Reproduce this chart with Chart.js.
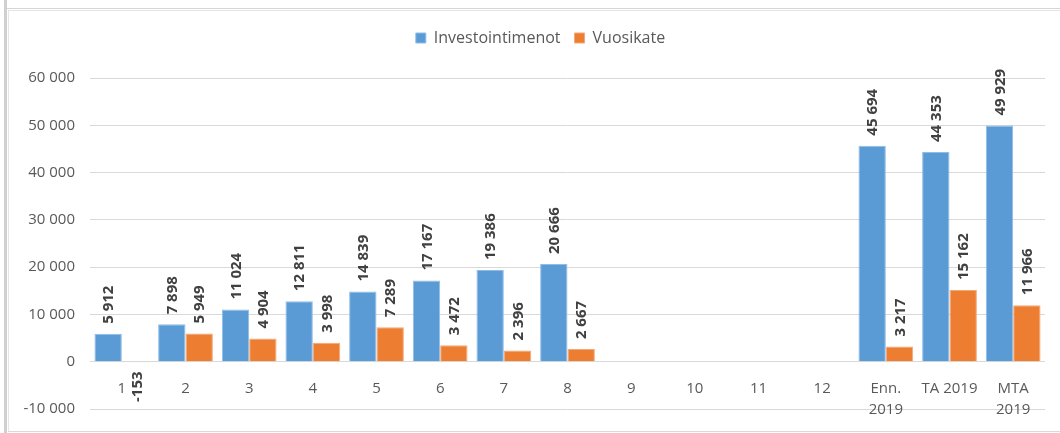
<!DOCTYPE html>
<html>
<head>
<meta charset="utf-8">
<style>
  html, body { margin: 0; padding: 0; background: #fff; }
  #wrap { position: absolute; left: 0; top: 0; width: 1060px; height: 433px; }
</style>
<script src="https://cdn.jsdelivr.net/npm/chart.js@4/dist/chart.umd.min.js"></script>
</head>
<body>
<div id="wrap"><canvas id="c" width="1060" height="433"></canvas></div>
<script>
const categories = ['1', '2', '3', '4', '5', '6', '7', '8', '9', '10', '11', '12', ['Enn.', '2019'], 'TA 2019', ['MTA', '2019']];
const investointimenot = [5912, 7898, 11024, 12811, 14839, 17167, 19386, 20666, null, null, null, null, 45694, 44353, 49929];
const vuosikate = [-153, 5949, 4904, 3998, 7289, 3472, 2396, 2667, null, null, null, null, 3217, 15162, 11966];
const seriesNames = ['Investointimenot', 'Vuosikate'];
const yMin = -10000, yMax = 60000, yStep = 10000;

const FONT = "'Open Sans', 'Liberation Sans', sans-serif";
function fmt(v) {
  const s = Math.abs(v).toString().replace(/\B(?=(\d{3})+(?!\d))/g, ' ');
  return (v < 0 ? '-' : '') + s;
}

const framePlugin = {
  id: 'frame',
  beforeInit(chart) {
    const lg = chart.legend;
    if (lg) {
      const origFit = lg.fit;
      lg.fit = function () { origFit.call(this); this.height += 22; };
    }
  },
  afterLayout(chart) {
    const lg = chart.legend;
    if (lg) { lg.left += 18; lg.right += 18; }
  },
  beforeDraw(chart) {
    const ctx = chart.ctx;
    ctx.save();
    ctx.fillStyle = '#ffffff';
    ctx.fillRect(0, 0, chart.width, chart.height);
    ctx.fillStyle = '#d0d0d0';
    ctx.fillRect(4, 0, 3, chart.height);
    ctx.fillStyle = '#d6d6d6';
    ctx.fillRect(7, 8, chart.width - 7, 1);
    ctx.fillStyle = '#e6e6e6';
    ctx.fillRect(8, 10, chart.width - 8, 1);
    ctx.fillRect(8, 10, 1, chart.height - 12);
    ctx.fillStyle = '#d9d9d9';
    ctx.fillRect(8, 431, chart.width - 8, 1);
    ctx.restore();
  }
};

const labelPlugin = {
  id: 'barLabels',
  afterDatasetsDraw(chart) {
    const ctx = chart.ctx;
    ctx.save();
    ctx.font = "bold 15px " + FONT;
    ctx.fillStyle = '#404040';
    ctx.textBaseline = 'middle';
    chart.data.datasets.forEach((ds, di) => {
      const meta = chart.getDatasetMeta(di);
      meta.data.forEach((el, i) => {
        const v = ds.data[i];
        if (v === null || v === undefined) return;
        ctx.save();
        if (v >= 0) {
          ctx.translate(el.x + 1, el.y - 10);
          ctx.rotate(-Math.PI / 2);
          ctx.textAlign = 'left';
        } else {
          ctx.translate(el.x + 2, el.y + 9);
          ctx.rotate(-Math.PI / 2);
          ctx.textAlign = 'right';
        }
        ctx.fillText(fmt(v), 0, 0);
        ctx.restore();
      });
    });
    ctx.restore();
  }
};

new Chart(document.getElementById('c'), {
  type: 'bar',
  data: {
    labels: categories,
    datasets: [
      { label: seriesNames[0], data: investointimenot, backgroundColor: '#5b9bd5', borderColor: '#8fbde6', borderWidth: 1 },
      { label: seriesNames[1], data: vuosikate, backgroundColor: '#ed7d31', borderColor: '#f3a878', borderWidth: 1 }
    ]
  },
  options: {
    responsive: false,
    animation: false,
    devicePixelRatio: 1,
    layout: { padding: { left: 0, right: 15, top: 16, bottom: 17 } },
    datasets: { bar: { categoryPercentage: 0.86, barPercentage: 1.0 } },
    plugins: {
      legend: {
        position: 'top',
        align: 'center',
        labels: {
          boxWidth: 10, boxHeight: 10, padding: 14,
          color: '#595959',
          font: { family: FONT, size: 16 }
        }
      },
      tooltip: { enabled: false }
    },
    scales: {
      x: {
        position: { y: 0 },
        grid: { display: false, drawTicks: false },
        border: { display: false },
        ticks: {
          color: '#595959',
          padding: 17,
          maxRotation: 0,
          autoSkip: false,
          font: { family: FONT, size: 15, lineHeight: 1.4 }
        }
      },
      y: {
        min: yMin, max: yMax,
        grid: { color: '#d9d9d9', lineWidth: 1, drawTicks: false },
        border: { display: false },
        afterFit(scale) { scale.width = 90; },
        ticks: {
          stepSize: yStep,
          padding: 15,
          color: '#595959',
          font: { family: FONT, size: 15 },
          callback: (v) => fmt(v)
        }
      }
    }
  },
  plugins: [framePlugin, labelPlugin]
});
</script>
</body>
</html>
